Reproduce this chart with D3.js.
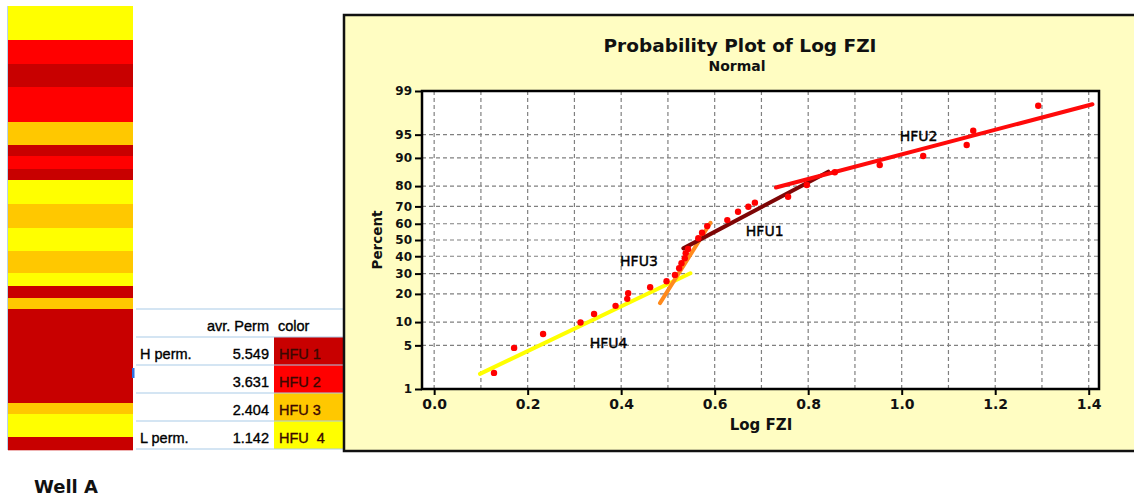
<!DOCTYPE html>
<html><head><meta charset="utf-8">
<script src="https://cdn.jsdelivr.net/npm/d3@7"></script>
<style>
html,body{margin:0;padding:0;background:#fff;}
svg{display:block;}
</style></head>
<body>
<svg id="chart" width="1134" height="498"></svg>
<script>
// Hydraulic flow units: names, colours, average permeability
const hfuNames = ["HFU 1", "HFU 2", "HFU 3", "HFU  4"];
const hfuColors = ["#C80000", "#FF0000", "#FFC800", "#FFFF00"];
const avgPerm = ["5.549", "3.631", "2.404", "1.142"];
const permLabels = ["H perm.", "", "", "L perm."];

// Well A log: flow unit (1-4) of each interval, top to bottom, and interval thickness
const wellUnits = [4, 2, 1, 2, 3, 1, 2, 1, 4, 3, 4, 3, 4, 1, 3, 1, 3, 4, 1];
const wellThickness = [34, 24, 23, 35, 23, 11, 13, 11, 24, 24, 23, 22, 13, 12, 11, 94, 11, 23, 13];

// Probability plot samples: Log FZI and cumulative percent
const logFzi = [0.128, 0.171, 0.233, 0.313, 0.342, 0.388, 0.413, 0.415, 0.462, 0.497,
  0.515, 0.524, 0.529, 0.536, 0.538, 0.543, 0.565, 0.573, 0.584, 0.627,
  0.650, 0.672, 0.686, 0.757, 0.797, 0.857, 0.953, 1.046, 1.139, 1.153, 1.292];
const percent = [1.9, 4.6, 7.1, 9.9, 12.4, 15.2, 17.9, 20.3, 23.0, 26.0,
  29.3, 33.0, 35.8, 38.8, 41.8, 44.4, 51.1, 54.5, 58.6, 62.2,
  67.0, 69.8, 72.0, 75.0, 80.5, 85.5, 87.9, 90.5, 93.1, 95.6, 98.2];

// Fitted line for each flow unit (start / end in Log FZI and percent)
const fitUnits = [4, 3, 1, 2];
const fitX0 = [0.098, 0.483, 0.533, 0.731];
const fitP0 = [1.83, 16.2, 44.8, 79.4];
const fitX1 = [0.548, 0.591, 0.843, 1.408];
const fitP1 = [30.2, 60.6, 85.7, 98.3];
const fitColors = ["#FFFF00", "#FF8A1C", "#7E0606", "#FF0A0A"];

// Unit annotations inside the plot
const noteText = ["HFU2", "HFU1", "HFU3", "HFU4"];
const noteX = [1.036, 0.707, 0.438, 0.373];
const noteP = [93.8, 52.2, 34.2, 4.55];

// Axis ticks
const xTicks = [0, 0.2, 0.4, 0.6, 0.8, 1.0, 1.2, 1.4];
const xGrid = d3.range(0, 15).map(i => i / 10);
const pTicks = [1, 5, 10, 20, 30, 40, 50, 60, 70, 80, 90, 95, 99];

// Inverse standard normal CDF (Acklam's rational approximation)
function probit(p) {
  const a = [-3.969683028665376e+01, 2.209460984245205e+02, -2.759285104469687e+02, 1.383577518672690e+02, -3.066479806614716e+01, 2.506628277459239e+00];
  const b = [-5.447609879822406e+01, 1.615858368580409e+02, -1.556989798598866e+02, 6.680131188771972e+01, -1.328068155288572e+01];
  const c = [-7.784894002430293e-03, -3.223964580411365e-01, -2.400758277161838e+00, -2.549732539343734e+00, 4.374664141464968e+00, 2.938163982698783e+00];
  const d = [7.784695709041462e-03, 3.224671290700398e-01, 2.445134137142996e+00, 3.754408661907416e+00];
  const pl = 0.02425, ph = 1 - pl;
  let q, r;
  if (p < pl) {
    q = Math.sqrt(-2 * Math.log(p));
    return (((((c[0]*q+c[1])*q+c[2])*q+c[3])*q+c[4])*q+c[5]) / ((((d[0]*q+d[1])*q+d[2])*q+d[3])*q+1);
  }
  if (p > ph) {
    q = Math.sqrt(-2 * Math.log(1 - p));
    return -(((((c[0]*q+c[1])*q+c[2])*q+c[3])*q+c[4])*q+c[5]) / ((((d[0]*q+d[1])*q+d[2])*q+d[3])*q+1);
  }
  q = p - 0.5; r = q * q;
  return (((((a[0]*r+a[1])*r+a[2])*r+a[3])*r+a[4])*r+a[5])*q / (((((b[0]*r+b[1])*r+b[2])*r+b[3])*r+b[4])*r+1);
}

const svg = d3.select("#chart");
const FONT = "'DejaVu Sans', Verdana, sans-serif";
const TFONT = "'Liberation Sans Narrow', 'Liberation Sans', Arial, sans-serif";

// ---------- Well A column ----------
const tops = d3.cumsum([0].concat(wellThickness));
const depth = d3.scaleLinear().domain([0, tops[tops.length - 1]]).range([6, 450]);
const well = svg.append("g");
well.selectAll("rect").data(wellUnits).join("rect")
  .attr("x", 8).attr("width", 125)
  .attr("y", (u, i) => depth(tops[i]))
  .attr("height", (u, i) => depth(tops[i + 1]) - depth(tops[i]) + 0.3)
  .attr("fill", u => hfuColors[u - 1]);
well.append("line").attr("x1", 7.5).attr("x2", 7.5).attr("y1", 6).attr("y2", 450)
  .attr("stroke", "#b8d4ee").attr("stroke-width", 1);
svg.append("text").attr("x", 34).attr("y", 493)
  .attr("font-family", FONT).attr("font-weight", "bold").attr("font-size", 18)
  .attr("fill", "#111").text("Well A");

// ---------- Permeability table ----------
const rows = d3.scaleBand().domain(d3.range(5)).range([309, 449]);
const table = svg.append("g");
table.selectAll("rect.cell").data(hfuColors).join("rect").attr("class", "cell")
  .attr("x", 274).attr("width", 70)
  .attr("y", (c, i) => rows(i + 1)).attr("height", rows.bandwidth())
  .attr("fill", c => c);
table.selectAll("line.row").data(d3.range(6)).join("line").attr("class", "row")
  .attr("x1", 136).attr("x2", 344)
  .attr("y1", i => i < 5 ? rows(i) : 449).attr("y2", i => i < 5 ? rows(i) : 449)
  .attr("stroke", "#a9cbe8").attr("stroke-width", 1.2);
table.append("rect").attr("x", 132).attr("y", 368).attr("width", 2.5).attr("height", 10).attr("fill", "#2f6fe0");
const tText = (x, y, s, anchor, fill) => table.append("text")
  .attr("x", x).attr("y", y).attr("text-anchor", anchor)
  .attr("font-family", TFONT).attr("font-size", 14.5).attr("fill", fill || "#000")
  .attr("stroke", fill || "#000").attr("stroke-width", 0.35)
  .attr("xml:space", "preserve").text(s);
const base = i => rows(i) + rows.bandwidth() - 6;
tText(269, base(0), "avr. Perm", "end");
tText(278, base(0), "color", "start");
hfuNames.forEach((n, i) => {
  if (permLabels[i]) tText(140, base(i + 1), permLabels[i], "start");
  tText(269, base(i + 1), avgPerm[i], "end");
  tText(279, base(i + 1), n, "start", "#3a0800");
});

// ---------- Probability plot panel ----------
svg.append("rect").attr("x", 344).attr("y", 15).attr("width", 800).attr("height", 436)
  .attr("fill", "#FFFDC2").attr("stroke", "#111").attr("stroke-width", 2.5);

const x = d3.scaleLinear().domain([-0.026, 1.422]).range([422, 1099]);
const y = d3.scaleLinear().domain([probit(0.01), probit(0.99)]).range([389, 91]);
const yp = p => y(probit(p / 100));

const plot = svg.append("g");
plot.append("rect").attr("x", 422).attr("y", 91).attr("width", 677).attr("height", 298).attr("fill", "#fff");

// grid
plot.selectAll("line.vg").data(xGrid).join("line").attr("class", "vg")
  .attr("x1", d => x(d)).attr("x2", d => x(d)).attr("y1", 91).attr("y2", 389)
  .attr("stroke", "#808080").attr("stroke-width", 1.2).attr("stroke-dasharray", "4,3");
plot.selectAll("line.hg").data(pTicks.slice(1, -1)).join("line").attr("class", "hg")
  .attr("x1", 422).attr("x2", 1099).attr("y1", d => yp(d)).attr("y2", d => yp(d))
  .attr("stroke", "#808080").attr("stroke-width", 1.2).attr("stroke-dasharray", "4,3");

// fitted lines
plot.selectAll("line.fit").data(fitUnits).join("line").attr("class", "fit")
  .attr("x1", (u, i) => x(fitX0[i])).attr("y1", (u, i) => yp(fitP0[i]))
  .attr("x2", (u, i) => x(fitX1[i])).attr("y2", (u, i) => yp(fitP1[i]))
  .attr("stroke", (u, i) => fitColors[i]).attr("stroke-width", 4).attr("stroke-linecap", "round");

// sample points
plot.selectAll("circle").data(logFzi).join("circle")
  .attr("cx", d => x(d)).attr("cy", (d, i) => yp(percent[i])).attr("r", 3.2)
  .attr("fill", "#FF0000");

// annotations
plot.selectAll("text.note").data(noteText).join("text").attr("class", "note")
  .attr("x", (t, i) => x(noteX[i])).attr("y", (t, i) => yp(noteP[i]))
  .attr("text-anchor", "middle").attr("font-family", FONT).attr("font-size", 14)
  .attr("fill", "#000").attr("stroke", "#000").attr("stroke-width", 0.4).text(t => t);

// frame
plot.append("rect").attr("x", 422).attr("y", 91).attr("width", 677).attr("height", 298)
  .attr("fill", "none").attr("stroke", "#000").attr("stroke-width", 2.5);

// axes
const xAxis = svg.append("g").attr("transform", "translate(0,389)")
  .call(d3.axisBottom(x).tickValues(xTicks).tickFormat(d3.format(".1f")).tickSize(6).tickPadding(4));
xAxis.select(".domain").remove();
xAxis.selectAll("line").attr("stroke", "#000").attr("stroke-width", 2);
xAxis.selectAll("text").attr("font-family", FONT).attr("font-weight", "bold").attr("font-size", 14).attr("fill", "#111");

const yAxis = svg.append("g").attr("transform", "translate(422,0)")
  .call(d3.axisLeft(y).tickValues(pTicks.map(p => probit(p / 100)))
    .tickFormat((d, i) => pTicks[i]).tickSize(7).tickPadding(3));
yAxis.select(".domain").remove();
yAxis.selectAll("line").attr("stroke", "#000").attr("stroke-width", 2);
yAxis.selectAll("text").attr("font-family", FONT).attr("font-weight", "bold").attr("font-size", 12).attr("fill", "#111");

// titles
svg.append("text").attr("x", 740).attr("y", 52).attr("text-anchor", "middle")
  .attr("font-family", FONT).attr("font-weight", "bold").attr("font-size", 18.5).attr("fill", "#111")
  .text("Probability Plot of Log FZI");
svg.append("text").attr("x", 737).attr("y", 71).attr("text-anchor", "middle")
  .attr("font-family", FONT).attr("font-weight", "bold").attr("font-size", 14).attr("fill", "#111")
  .text("Normal");
svg.append("text").attr("x", 761).attr("y", 430).attr("text-anchor", "middle")
  .attr("font-family", FONT).attr("font-weight", "bold").attr("font-size", 15).attr("fill", "#111")
  .text("Log FZI");
svg.append("text").attr("transform", "translate(382,240) rotate(-90)").attr("text-anchor", "middle")
  .attr("font-family", FONT).attr("font-weight", "bold").attr("font-size", 13.5).attr("fill", "#111")
  .text("Percent");
</script>
</body></html>
